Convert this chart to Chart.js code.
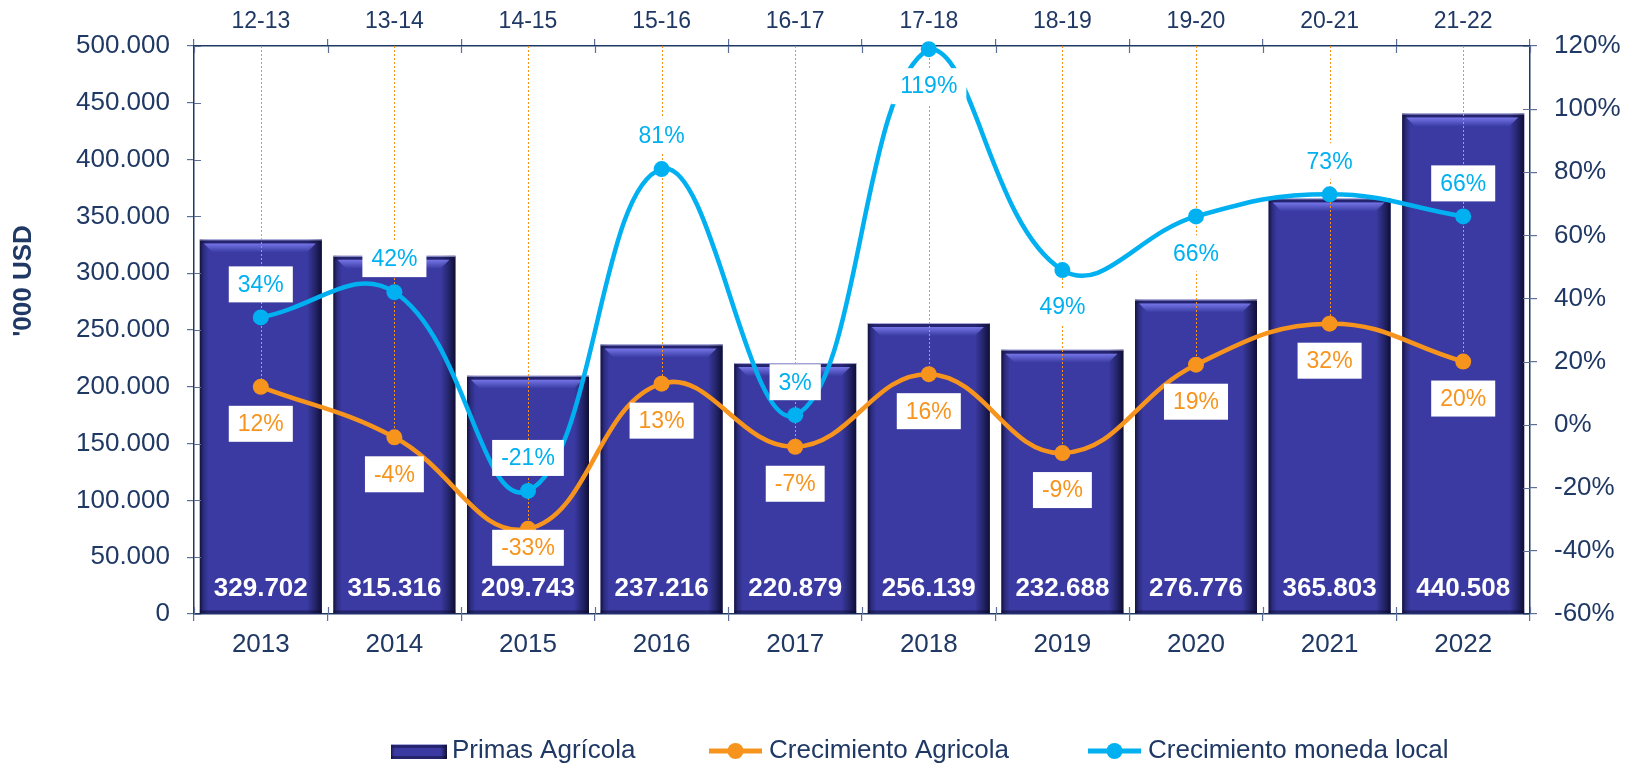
<!DOCTYPE html>
<html>
<head>
<meta charset="utf-8">
<script src="https://cdn.jsdelivr.net/npm/chart.js@4.4.1/dist/chart.umd.min.js"></script>
<style>
  html, body { margin: 0; padding: 0; background: #fff; }
  #wrap { width: 1636px; height: 770px; }
</style>
</head>
<body>
<div id="wrap"><canvas id="chart" width="1636" height="770"></canvas></div>
<script>
// datos
const years = ['2013', '2014', '2015', '2016', '2017', '2018', '2019', '2020', '2021', '2022'];
const periods = ['12-13', '13-14', '14-15', '15-16', '16-17', '17-18', '18-19', '19-20', '20-21', '21-22'];
const primas = [329702, 315316, 209743, 237216, 220879, 256139, 232688, 276776, 365803, 440508];
const crecAgricola = [12, -4, -33, 13, -7, 16, -9, 19, 32, 20];
const crecLocal = [34, 42, -21, 81, 3, 119, 49, 66, 73, 66];
const leftTicks = [0, 50000, 100000, 150000, 200000, 250000, 300000, 350000, 400000, 450000, 500000];
const rightTicks = [-60, -40, -20, 0, 20, 40, 60, 80, 100, 120];

// where each % label sits
const agricolaPos = ['below', 'below', 'near', 'below', 'below', 'below', 'below', 'below', 'below', 'below'];
const localPos = ['above', 'above', 'above', 'above', 'above', 'below', 'below', 'below', 'above', 'above'];
const labelShift = { above: -33, below: 37, near: 19 };

const navy = '#1f3864';
const tickGrey = '#5d6f96';
const orange = '#f7941d';
const cyan = '#00b0f0';
const barBlue = '#3a3aa2';
const FONT = '"Liberation Sans", Arial, sans-serif';

function fmtMiles(v) {
  return String(v).replace(/\B(?=(\d{3})+(?!\d))/g, '.');
}

function shadeBar(ctx, l, t, w, h) {
  const r = l + w;
  let g = ctx.createLinearGradient(l, 0, r, 0);
  g.addColorStop(0, 'rgba(12,12,45,0.85)');
  g.addColorStop(0.03, 'rgba(12,12,45,0.3)');
  g.addColorStop(0.07, 'rgba(12,12,45,0)');
  g.addColorStop(0.88, 'rgba(12,12,45,0)');
  g.addColorStop(0.95, 'rgba(12,12,45,0.5)');
  g.addColorStop(1, 'rgba(12,12,45,0.95)');
  ctx.fillStyle = g;
  ctx.fillRect(l, t, w, h);
  // top rim
  ctx.fillStyle = 'rgba(200,200,235,0.8)';
  ctx.fillRect(l, t, w, 1);
  ctx.fillStyle = 'rgba(20,20,70,0.55)';
  ctx.fillRect(l + 1, t + 1, w - 2, 3);
  if (h > 16) {
    const hg = ctx.createLinearGradient(0, t + 4, 0, t + 13);
    hg.addColorStop(0, 'rgba(120,120,235,0.95)');
    hg.addColorStop(1, 'rgba(120,120,235,0)');
    ctx.fillStyle = hg;
    ctx.beginPath();
    ctx.moveTo(l + 4, t + 4);
    ctx.lineTo(r - 6, t + 4);
    ctx.lineTo(r - 15, t + 13);
    ctx.lineTo(l + 13, t + 13);
    ctx.closePath();
    ctx.fill();
  }
  // bottom shadow
  ctx.fillStyle = 'rgba(12,12,45,0.45)';
  ctx.fillRect(l, t + h - 3, w, 3);
}

// bars: bevel, drop lines, values
const barDecor = {
  id: 'barDecor',
  afterDatasetDraw(chart, args) {
    if (args.meta.type !== 'bar') return;
    const ctx = chart.ctx;
    const area = chart.chartArea;
    const mA = chart.getDatasetMeta(1).data;
    const mL = chart.getDatasetMeta(2).data;
    ctx.save();
    args.meta.data.forEach((el, i) => {
      const p = el.getProps(['x', 'y', 'base', 'width'], true);
      shadeBar(ctx, p.x - p.width / 2, p.y, p.width, p.base - p.y);
    });
    // orange dotted drop lines
    ctx.strokeStyle = orange;
    ctx.lineWidth = 1;
    ctx.setLineDash([2, 2]);
    args.meta.data.forEach((el, i) => {
      const x = Math.round(el.x) + 0.5;
      const yEnd = Math.max(mA[i].y, mL[i].y);
      ctx.beginPath();
      ctx.moveTo(x, area.top);
      ctx.lineTo(x, yEnd);
      ctx.stroke();
    });
    ctx.setLineDash([]);
    // values
    ctx.fillStyle = '#ffffff';
    ctx.font = 'bold 26px ' + FONT;
    ctx.textAlign = 'center';
    ctx.textBaseline = 'middle';
    args.meta.data.forEach((el, i) => {
      ctx.fillText(fmtMiles(primas[i]), el.x, el.base - 25);
    });
    ctx.restore();
  }
};

// % labels in white boxes
const pctLabels = {
  id: 'pctLabels',
  afterDatasetsDraw(chart) {
    const ctx = chart.ctx;
    ctx.save();
    ctx.font = '23px ' + FONT;
    ctx.textAlign = 'center';
    ctx.textBaseline = 'middle';
    const sets = [
      { meta: chart.getDatasetMeta(1), vals: crecAgricola, pos: agricolaPos, color: orange },
      { meta: chart.getDatasetMeta(2), vals: crecLocal, pos: localPos, color: cyan }
    ];
    sets.forEach(s => {
      s.meta.data.forEach((pt, i) => {
        const txt = s.vals[i] + '%';
        const cy = pt.y + labelShift[s.pos[i]];
        const w = ctx.measureText(txt).width + 18;
        ctx.fillStyle = '#ffffff';
        ctx.fillRect(pt.x - w / 2, cy - 18, w, 36);
        ctx.fillStyle = s.color;
        ctx.fillText(txt, pt.x, cy + 1);
      });
    });
    ctx.restore();
  }
};

// cross tick marks (inner half), axis title, legend
const chrome = {
  id: 'chrome',
  afterDraw(chart) {
    const ctx = chart.ctx;
    const a = chart.chartArea;
    const s = chart.scales;
    ctx.save();
    ctx.strokeStyle = tickGrey;
    ctx.lineWidth = 1.2;
    ctx.beginPath();
    const n = years.length;
    for (let i = 0; i <= n; i++) {
      const x = Math.round(s.x.left + i * s.x.width / n) + 0.5;
      ctx.moveTo(x, a.bottom); ctx.lineTo(x, a.bottom - 7);
      ctx.moveTo(x, a.top); ctx.lineTo(x, a.top + 7);
    }
    s.y.ticks.forEach(t => {
      const y = Math.round(s.y.getPixelForValue(t.value)) + 0.5;
      ctx.moveTo(a.left, y); ctx.lineTo(a.left + 7, y);
    });
    s.y1.ticks.forEach(t => {
      const y = Math.round(s.y1.getPixelForValue(t.value)) + 0.5;
      ctx.moveTo(a.right, y); ctx.lineTo(a.right - 7, y);
    });
    ctx.stroke();

    // axis title
    ctx.save();
    ctx.translate(24, 281);
    ctx.rotate(-Math.PI / 2);
    ctx.fillStyle = navy;
    ctx.font = 'bold 26px ' + FONT;
    ctx.textAlign = 'center';
    ctx.textBaseline = 'middle';
    ctx.fillText("'000 USD", 0, 0);
    ctx.restore();

    // legend
    const ly = 751;
    ctx.font = '26px ' + FONT;
    ctx.textBaseline = 'middle';
    ctx.textAlign = 'left';
    ctx.fillStyle = barBlue;
    ctx.fillRect(391, ly - 7, 56, 15);
    shadeBar(ctx, 391, ly - 7, 56, 15);
    ctx.fillStyle = navy;
    ctx.fillText(chart.data.datasets[0].label, 452, ly);

    [[709, orange, 1], [1088, cyan, 2]].forEach(([x0, col, di]) => {
      ctx.strokeStyle = col;
      ctx.lineWidth = 5;
      ctx.beginPath();
      ctx.moveTo(x0, ly); ctx.lineTo(x0 + 53, ly);
      ctx.stroke();
      ctx.fillStyle = col;
      ctx.beginPath();
      ctx.arc(x0 + 26.5, ly, 8, 0, Math.PI * 2);
      ctx.fill();
      ctx.fillStyle = navy;
      ctx.fillText(chart.data.datasets[di].label, x0 + 60, ly);
    });
    ctx.restore();
  }
};

new Chart(document.getElementById('chart'), {
  type: 'bar',
  data: {
    labels: years,
    datasets: [
      {
        label: 'Primas Agrícola',
        data: primas,
        backgroundColor: barBlue,
        yAxisID: 'y',
        xAxisID: 'x',
        barPercentage: 0.913,
        categoryPercentage: 1,
        order: 3
      },
      {
        type: 'line',
        label: 'Crecimiento Agricola',
        data: crecAgricola,
        borderColor: orange,
        backgroundColor: orange,
        borderWidth: 4.5,
        pointRadius: 8,
        pointBorderWidth: 0,
        tension: 0.42,
        yAxisID: 'y1',
        xAxisID: 'x',
        clip: false,
        order: 2
      },
      {
        type: 'line',
        label: 'Crecimiento moneda local',
        data: crecLocal,
        borderColor: cyan,
        backgroundColor: cyan,
        borderWidth: 4.5,
        pointRadius: 8,
        pointBorderWidth: 0,
        tension: 0.42,
        yAxisID: 'y1',
        xAxisID: 'x',
        clip: false,
        order: 1
      }
    ]
  },
  options: {
    responsive: false,
    devicePixelRatio: 1,
    animation: false,
    events: [],
    layout: { padding: 0 },
    plugins: {
      legend: { display: false },
      tooltip: { enabled: false }
    },
    scales: {
      x: {
        type: 'category',
        position: 'bottom',
        offset: true,
        afterFit: s => { s.height = 156; },
        grid: { offset: true, drawOnChartArea: false, drawTicks: true, tickLength: 7, color: tickGrey, lineWidth: 1.2 },
        border: { color: navy, width: 1.5 },
        ticks: { color: navy, font: { family: FONT, size: 26 }, padding: 8, maxRotation: 0 }
      },
      x2: {
        type: 'category',
        labels: periods,
        position: 'top',
        offset: true,
        afterFit: s => { s.height = 46; },
        grid: { offset: true, drawOnChartArea: false, drawTicks: true, tickLength: 7, color: tickGrey, lineWidth: 1.2 },
        border: { color: navy, width: 1.5 },
        ticks: { color: navy, font: { family: FONT, size: 23 }, padding: 4, maxRotation: 0 }
      },
      y: {
        position: 'left',
        min: 0,
        max: 500000,
        afterBuildTicks: s => { s.ticks = leftTicks.map(v => ({ value: v })); },
        afterFit: s => { s.width = 194; },
        grid: { drawOnChartArea: false, drawTicks: true, tickLength: 7, color: tickGrey, lineWidth: 1.2 },
        border: { color: navy, width: 1.5 },
        ticks: { color: navy, font: { family: FONT, size: 26 }, padding: 17, callback: v => fmtMiles(v) }
      },
      y1: {
        position: 'right',
        min: -60,
        max: 120,
        afterBuildTicks: s => { s.ticks = rightTicks.map(v => ({ value: v })); },
        afterFit: s => { s.width = 106; },
        grid: { drawOnChartArea: false, drawTicks: true, tickLength: 7, color: tickGrey, lineWidth: 1.2 },
        border: { color: navy, width: 1.5 },
        ticks: { color: navy, font: { family: FONT, size: 26 }, padding: 17, callback: v => v + '%' }
      }
    }
  },
  plugins: [barDecor, pctLabels, chrome]
});
</script>
</body>
</html>
